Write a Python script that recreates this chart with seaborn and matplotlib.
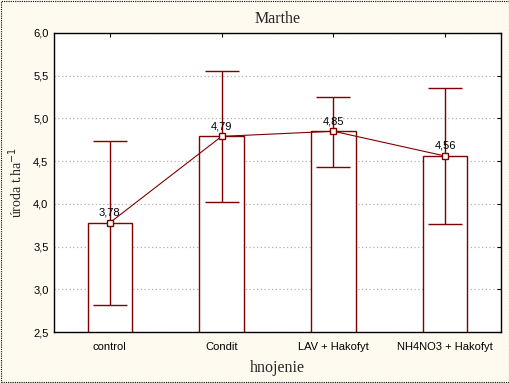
import matplotlib
matplotlib.use("Agg")
import matplotlib.pyplot as plt
import seaborn as sns
import pandas as pd
import numpy as np
from matplotlib.patches import Rectangle
from matplotlib.ticker import FuncFormatter

categories = ["control", "Condit", "LAV + Hakofyt", "NH4NO3 + Hakofyt"]
means = [3.78, 4.79, 4.85, 4.56]
lower = [2.82, 4.02, 4.43, 3.77]
upper = [4.74, 5.56, 5.25, 5.36]
labels = ["3,78", "4,79", "4,85", "4,56"]

sns.set_style("white")
plt.rcParams["font.family"] = ["Liberation Sans", "DejaVu Sans"]

dark = "#800000"
bg = "#FFFAEF"
serif = ["Liberation Serif", "DejaVu Serif"]

df = pd.DataFrame({"hnojenie": categories, "val": means})

fig = plt.figure(figsize=(5.10, 3.83), dpi=100, facecolor=bg)
ax = fig.add_axes([54/510, 1-332/383, (501-54)/510, (332-33)/383])
ax.set_facecolor("white")

sns.barplot(data=df, x="hnojenie", y="val", order=categories, ax=ax,
            color="white", edgecolor=dark, linewidth=1.0, width=0.4,
            errorbar=None)

xpos = np.arange(len(categories))
yerr = [np.array(means) - np.array(lower), np.array(upper) - np.array(means)]
ax.errorbar(xpos, means, yerr=yerr, fmt="none", ecolor=dark, elinewidth=1.0,
            capsize=12, capthick=1.0, zorder=3)
sns.pointplot(data=df, x="hnojenie", y="val", order=categories, ax=ax,
              color=dark, markers="s", linestyles="-", errorbar=None,
              markersize=4, linewidth=0.8,
              markerfacecolor="white", markeredgecolor=dark, markeredgewidth=1.0)
for ln in ax.lines[-1:]:
    ln.set_zorder(4)

for x, m, t in zip(xpos, means, labels):
    ax.text(x, m + 0.06, t, ha="center", va="bottom", fontsize=8, color="black", zorder=5)

ax.set_ylim(2.5, 6.0)
ax.set_xlim(-0.5, 3.5)
ax.set_yticks(np.arange(2.5, 6.01, 0.5))
ax.yaxis.set_major_formatter(FuncFormatter(lambda v, p: f"{v:.1f}".replace(".", ",")))
ax.grid(axis="y", color="#b0b0b0", linestyle=(0, (1, 2)), linewidth=0.9)
ax.set_axisbelow(True)
for s in ax.spines.values():
    s.set_visible(True)
    s.set_color("black")
    s.set_linewidth(1.0)
ax.tick_params(direction="in", length=3, width=0.8, top=True, right=True,
               labelsize=8, colors="black")
ax.tick_params(axis="x", pad=7)
ax.tick_params(axis="y", pad=4)

ax.set_title("Marthe", fontsize=11.5, family=serif, pad=7)
ax.set_xlabel("hnojenie", fontsize=11.5, family=serif, labelpad=6)
ax.set_ylabel("úroda t.ha$^{-1}$", fontsize=10, family=serif, labelpad=6)

fig.patches.append(Rectangle((0.002, 0.002), 0.996, 0.995, transform=fig.transFigure,
                             fill=False, edgecolor="black", linestyle=(0, (1, 1)), linewidth=0.8))

fig.savefig("out.png", dpi=100, facecolor=bg)
